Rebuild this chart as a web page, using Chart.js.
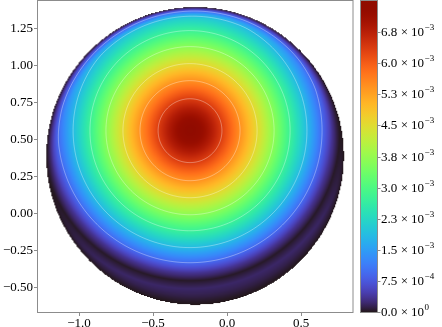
<!DOCTYPE html>
<html>
<head>
<meta charset="utf-8">
<script src="https://cdn.jsdelivr.net/npm/chart.js@4.4.1/dist/chart.umd.min.js"></script>
<style>
  html, body { margin: 0; padding: 0; background: #fff; }
</style>
</head>
<body>
<canvas id="chart" width="442" height="327"></canvas>
<script>
// density field: radial profile around the peak, masked to the disk
const peakCenter = [-0.25, 0.56];
const diskCenter = [-0.216, 0.39];
const diskRadius = 1.005;

const profileR = [0, 0.081, 0.149, 0.223, 0.338, 0.453, 0.568, 0.676, 0.79, 0.892, 0.96, 1.013, 1.068, 1.12, 1.18];
const profileV = [7.45e-3, 7.2e-3, 6.8e-3, 6.3e-3, 5.45e-3, 4.55e-3, 3.65e-3, 2.75e-3, 1.85e-3, 0.95e-3, 0.35e-3, 0.03e-3, 0.2e-3, 0.12e-3, 0.03e-3];

// fall-off towards the rim of the disk (distance inside rim -> factor)
const edgeD = [0, 0.015, 0.03, 0.05, 0.075];
const edgeF = [0, 0.35, 0.62, 0.88, 1];

const contourLevels = [0.95e-3, 1.85e-3, 2.75e-3, 3.65e-3, 4.55e-3, 5.45e-3, 6.35e-3];

const xTicks = [-1.0, -0.5, 0.0, 0.5];
const yTicks = [-0.5, -0.25, 0, 0.25, 0.5, 0.75, 1.0, 1.25];
const cbTicks = [0, 0.00075, 0.0015, 0.00225, 0.003, 0.00375, 0.0045, 0.00525, 0.006, 0.00675];
const cbMantissa = ["0.0", "7.5", "1.5", "2.3", "3.0", "3.8", "4.5", "5.3", "6.0", "6.8"];
const cbExponent = ["0", "\u22124", "\u22123", "\u22123", "\u22123", "\u22123", "\u22123", "\u22123", "\u22123", "\u22123"];

const vMin = 0;
const vMax = 7.5e-3;

const SERIF = '"Liberation Serif", "Times New Roman", serif';
const FRAME = "#8c8c8c";

function turbo(t) {
  t = Math.max(0, Math.min(1, t));
  const r = 0.13572138 + t * (4.6153926 + t * (-42.66032258 + t * (132.13108234 + t * (-152.94239396 + t * 59.28637943))));
  const g = 0.09140261 + t * (2.19418839 + t * (4.84296658 + t * (-14.18503333 + t * (4.27729857 + t * 2.82956604))));
  const b = 0.1066733 + t * (12.64194608 + t * (-60.58204836 + t * (110.36276771 + t * (-89.90310912 + t * 27.34824973))));
  return [r, g, b].map((c) => Math.round(255 * Math.max(0, Math.min(1, c))));
}

function lookup(xs, ys, v) {
  if (v <= xs[0]) return ys[0];
  for (let i = 1; i < xs.length; i++) {
    if (v <= xs[i]) {
      const f = (v - xs[i - 1]) / (xs[i] - xs[i - 1]);
      return ys[i - 1] + f * (ys[i] - ys[i - 1]);
    }
  }
  return ys[ys.length - 1];
}

// sample grid in data units
const step = 0.0068;
const gx0 = diskCenter[0] - diskRadius - 2 * step;
const gy1 = diskCenter[1] + diskRadius + 2 * step;
const nx = Math.ceil((2 * diskRadius + 4 * step) / step);
const ny = nx;
const field = new Float32Array(nx * ny);

for (let j = 0; j < ny; j++) {
  const yv = gy1 - (j + 0.5) * step;
  for (let i = 0; i < nx; i++) {
    const xv = gx0 + (i + 0.5) * step;
    const dEdge = diskRadius - Math.hypot(xv - diskCenter[0], yv - diskCenter[1]);
    if (dEdge < 0) {
      field[j * nx + i] = NaN;
      continue;
    }
    const r = Math.hypot(xv - peakCenter[0], yv - peakCenter[1]);
    field[j * nx + i] = lookup(profileR, profileV, r) * lookup(edgeD, edgeF, dEdge);
  }
}

const offscreen = document.createElement("canvas");
offscreen.width = nx;
offscreen.height = ny;
(function paintField() {
  const octx = offscreen.getContext("2d");
  const img = octx.createImageData(nx, ny);
  for (let k = 0; k < nx * ny; k++) {
    const v = field[k];
    if (isNaN(v)) continue;
    const [r, g, b] = turbo((v - vMin) / (vMax - vMin));
    img.data[k * 4] = r;
    img.data[k * 4 + 1] = g;
    img.data[k * 4 + 2] = b;
    img.data[k * 4 + 3] = 255;
  }
  octx.putImageData(img, 0, 0);
})();

function contourSegments(level) {
  const segs = [];
  for (let j = 0; j < ny - 1; j++) {
    for (let i = 0; i < nx - 1; i++) {
      const a = field[j * nx + i];
      const b = field[j * nx + i + 1];
      const c = field[(j + 1) * nx + i + 1];
      const d = field[(j + 1) * nx + i];
      if (isNaN(a) || isNaN(b) || isNaN(c) || isNaN(d)) continue;
      const code = (a > level ? 8 : 0) | (b > level ? 4 : 0) | (c > level ? 2 : 0) | (d > level ? 1 : 0);
      if (code === 0 || code === 15) continue;
      const top = () => [i + (level - a) / (b - a), j];
      const right = () => [i + 1, j + (level - b) / (c - b)];
      const bottom = () => [i + (level - d) / (c - d), j + 1];
      const left = () => [i, j + (level - a) / (d - a)];
      switch (code) {
        case 1: case 14: segs.push([left(), bottom()]); break;
        case 2: case 13: segs.push([bottom(), right()]); break;
        case 3: case 12: segs.push([left(), right()]); break;
        case 4: case 11: segs.push([top(), right()]); break;
        case 6: case 9: segs.push([top(), bottom()]); break;
        case 7: case 8: segs.push([left(), top()]); break;
        case 5: segs.push([left(), top()], [bottom(), right()]); break;
        case 10: segs.push([top(), right()], [left(), bottom()]); break;
      }
    }
  }
  return segs;
}

const contours = contourLevels.map(contourSegments);

const heatmapPlugin = {
  id: "heatmapPlugin",
  beforeDatasetsDraw(chart) {
    const { ctx, chartArea, scales } = chart;
    const { x, y } = scales;
    const px0 = x.getPixelForValue(gx0);
    const px1 = x.getPixelForValue(gx0 + nx * step);
    const py0 = y.getPixelForValue(gy1);
    const py1 = y.getPixelForValue(gy1 - ny * step);

    ctx.save();
    ctx.beginPath();
    ctx.rect(chartArea.left, chartArea.top, chartArea.right - chartArea.left, chartArea.bottom - chartArea.top);
    ctx.clip();
    ctx.imageSmoothingEnabled = true;
    ctx.drawImage(offscreen, px0, py0, px1 - px0, py1 - py0);

    ctx.strokeStyle = "rgba(255,255,255,0.5)";
    ctx.lineWidth = 0.7;
    const toPx = (p) => [
      x.getPixelForValue(gx0 + (p[0] + 0.5) * step),
      y.getPixelForValue(gy1 - (p[1] + 0.5) * step),
    ];
    contours.forEach((segs) => {
      ctx.beginPath();
      segs.forEach(([p, q]) => {
        const a = toPx(p);
        const b = toPx(q);
        ctx.moveTo(a[0], a[1]);
        ctx.lineTo(b[0], b[1]);
      });
      ctx.stroke();
    });
    ctx.restore();
  },
  afterDraw(chart) {
    const { ctx, chartArea } = chart;
    const cb = chart.scales.cb;

    // axes frame
    ctx.save();
    ctx.strokeStyle = FRAME;
    ctx.lineWidth = 1;
    ctx.strokeRect(chartArea.left - 0.5, chartArea.top - 0.5, chartArea.right - chartArea.left + 0.5, chartArea.bottom - chartArea.top + 1);

    // colorbar
    const barLeft = chartArea.right + 8;
    const barWidth = 16;
    const yTop = cb.getPixelForValue(vMax);
    const yBot = cb.getPixelForValue(vMin);
    const grad = ctx.createLinearGradient(0, yTop, 0, yBot);
    for (let k = 0; k <= 64; k++) {
      const [r, g, b] = turbo(1 - k / 64);
      grad.addColorStop(k / 64, `rgb(${r},${g},${b})`);
    }
    ctx.fillStyle = grad;
    ctx.fillRect(barLeft, yTop, barWidth, yBot - yTop);
    ctx.strokeStyle = FRAME;
    ctx.strokeRect(barLeft - 0.5, yTop - 0.5, barWidth + 1, yBot - yTop + 1);

    ctx.fillStyle = "#000";
    ctx.textBaseline = "middle";
    ctx.textAlign = "left";
    cbTicks.forEach((v, idx) => {
      const ty = Math.round(cb.getPixelForValue(v)) + 0.5;
      ctx.beginPath();
      ctx.moveTo(barLeft + barWidth, ty);
      ctx.lineTo(barLeft + barWidth + 3.5, ty);
      ctx.stroke();

      let tx = barLeft + barWidth + 4;
      ctx.font = `13px ${SERIF}`;
      ctx.fillText(cbMantissa[idx], tx, ty);
      tx += ctx.measureText(cbMantissa[idx]).width + 3.5;
      ctx.fillText("\u00d7", tx, ty);
      tx += ctx.measureText("\u00d7").width + 3;
      ctx.fillText("10", tx, ty);
      tx += ctx.measureText("10").width + 0.5;
      ctx.font = `9px ${SERIF}`;
      ctx.fillText(cbExponent[idx], tx, ty - 5);
    });
    ctx.restore();
  },
};

const axisFont = { family: SERIF, size: 13 };

function noPadding(scale) {
  scale.paddingTop = 0;
  scale.paddingBottom = 0;
  scale.paddingLeft = 0;
  scale.paddingRight = 0;
}

new Chart(document.getElementById("chart"), {
  type: "scatter",
  data: { datasets: [] },
  options: {
    responsive: false,
    animation: false,
    layout: { padding: { top: 1, right: 0, left: 0, bottom: 0 } },
    plugins: { legend: { display: false }, tooltip: { enabled: false } },
    scales: {
      x: {
        type: "linear",
        min: -1.277,
        max: 0.851,
        afterBuildTicks: (scale) => { scale.ticks = xTicks.map((value) => ({ value })); },
        afterFit: (scale) => { scale.height = 15; noPadding(scale); },
        ticks: {
          font: axisFont,
          color: "#000",
          padding: 0,
          maxRotation: 0,
          callback: (v) => v.toFixed(1).replace("-", "\u2212"),
        },
        grid: { display: true, drawOnChartArea: false, drawTicks: true, tickLength: 4, color: FRAME },
        border: { display: false },
      },
      y: {
        type: "linear",
        min: -0.665,
        max: 1.436,
        afterBuildTicks: (scale) => { scale.ticks = yTicks.map((value) => ({ value })); },
        afterFit: (scale) => { scale.width = 38; noPadding(scale); },
        ticks: {
          font: axisFont,
          color: "#000",
          padding: 1,
          callback: (v) => v.toFixed(2).replace("-", "\u2212"),
        },
        grid: { display: true, drawOnChartArea: false, drawTicks: true, tickLength: 4, color: FRAME },
        border: { display: false },
      },
      cb: {
        type: "linear",
        axis: "y",
        position: "right",
        min: vMin,
        max: vMax,
        afterFit: (scale) => { scale.width = 89; noPadding(scale); },
        ticks: { display: false },
        grid: { display: false },
        border: { display: false },
      },
    },
  },
  plugins: [heatmapPlugin],
});
</script>
</body>
</html>
